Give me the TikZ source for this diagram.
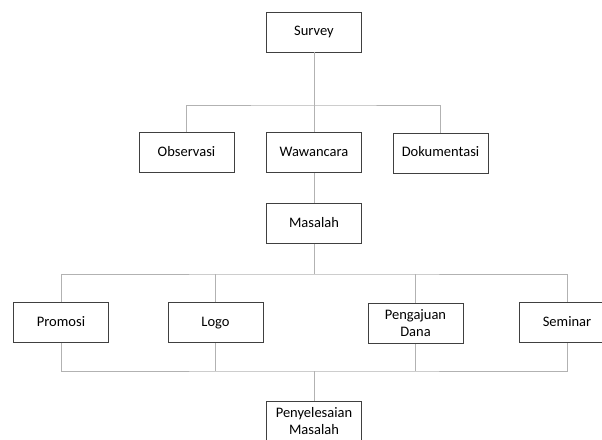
\documentclass[tikz,border=0pt]{standalone}
\usepackage{fontspec}
\setmainfont{Carlito}
\begin{document}
\begin{tikzpicture}[x=1pt,y=-1pt,
  kotak/.style={draw=black!75,line width=0.8pt,fill=white,minimum width=95pt,minimum height=40pt,
    align=center,inner sep=2pt,text height=10pt,text depth=3pt,font=\fontsize{14.5}{17}\selectfont},
  dua/.style={kotak,text height=,text depth=},
  garis/.style={draw=black!30,line width=1pt}]
\useasboundingbox (0,0) rectangle (602,439);
% level atas
\node[kotak] (survey) at (314,32) {Survey};
\node[kotak] (observasi) at (186.5,152.5) {Observasi};
\node[kotak] (wawancara) at (314,152.5) {Wawancara};
\node[kotak] (dokumentasi) at (440.5,153) {Dokumentasi};
\node[kotak] (masalah) at (314,223.5) {Masalah};
% level bawah
\node[kotak] (promosi) at (61,322.5) {Promosi};
\node[kotak] (logo) at (215.5,322.5) {Logo};
\node[dua] (dana) at (415.5,323.5) {Pengajuan\\Dana};
\node[kotak] (seminar) at (567,322.5) {Seminar};
\node[dua] (selesai) at (314,421.5) {Penyelesaian\\Masalah};
% cabang
\coordinate (cab1) at (314,105);
\coordinate (cab2) at (314,274);
\coordinate (cab3) at (314,371);
\begin{scope}[on background layer/.try]
\draw[garis] (survey) -- (wawancara);
\draw[garis] (observasi.north) |- (cab1) -| (dokumentasi.north);
\draw[garis] (wawancara) -- (masalah);
\draw[garis] (masalah) -- (cab2);
\draw[garis] (promosi.north) |- (cab2) -| (seminar.north);
\draw[garis] (logo.north) -- (logo.north |- cab2);
\draw[garis] (dana.north) -- (dana.north |- cab2);
\draw[garis] (promosi.south) |- (cab3) -| (seminar.south);
\draw[garis] (logo.south) -- (logo.south |- cab3);
\draw[garis] (dana.south) -- (dana.south |- cab3);
\draw[garis] (cab3) -- (selesai);
\end{scope}
\end{tikzpicture}
\end{document}
